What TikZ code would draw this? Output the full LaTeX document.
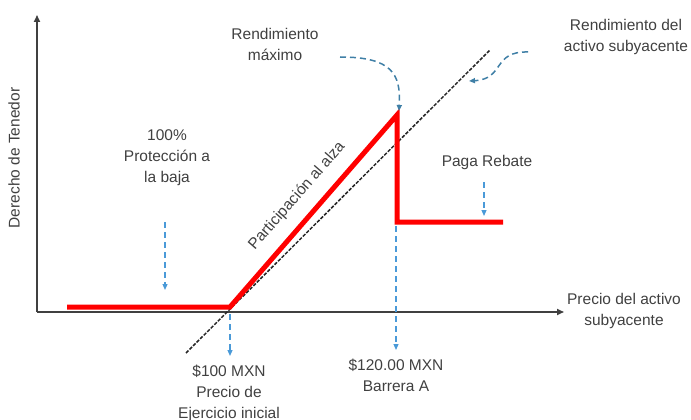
\documentclass[tikz,border=0pt]{standalone}
\usepackage{fontspec}
\setmainfont{Liberation Sans}
\usetikzlibrary{arrows.meta}
\definecolor{txtgray}{HTML}{404040}
\definecolor{pointblue}{HTML}{4A9AD8}
\definecolor{curveblue}{HTML}{3F7FA6}
\definecolor{payred}{HTML}{FF0000}

\tikzset{
  lbl/.style={align=center, text=txtgray, inner sep=0pt, font=\fontsize{15.5}{21}\selectfont},
  axis/.style={draw=txtgray, line width=1.6pt, -{Triangle[length=7pt,width=6pt]}},
  payoff/.style={draw=payred, line width=5pt, line join=miter},
  under/.style={draw=black!85, line width=1.5pt, dash pattern=on 3.5pt off 1.5pt},
  hint/.style={draw=pointblue, line width=1.2pt, dash pattern=on 6pt off 4pt, -{Triangle[length=6pt,width=5pt]}},
  bend hint/.style={hint, draw=curveblue, line width=1.5pt}
}

\begin{document}
\begin{tikzpicture}[x=1pt, y=-1pt]
  \useasboundingbox (0,0) rectangle (691,420);

  % axes
  \coordinate (org) at (37,312);
  \coordinate (ytop) at (37,15);
  \coordinate (xend) at (564,312);
  \draw[axis] (org) -- (ytop);
  \draw[axis] (org) -- (xend);

  % underlying asset line
  \coordinate (ulow) at (186,353);
  \coordinate (uhigh) at (490,50);
  \draw[under] (ulow) -- (uhigh);

  % payoff
  \coordinate (p0) at (67,307);
  \coordinate (strike) at (230,307);
  \coordinate (peak) at (397,115);
  \coordinate (drop) at (397,222);
  \coordinate (p4) at (503,222);
  \draw[payoff] (p0) -- (strike) -- (peak) -- (drop) -- (p4);

  % labels
  \node[lbl] (maxret) at (275,44) {Rendimiento\\máximo};
  \node[lbl] (uret) at (626,37) {Rendimiento del\\activo subyacente};
  \node[lbl] (prot) at (167,158) {100\%\\Protección a\\la baja};
  \node[lbl] (rebate) at (487,162) {Paga Rebate};
  \node[lbl, rotate=90] (ylbl) at (14,158) {Derecho de Tenedor};
  \node[lbl] (xlbl) at (624,311) {Precio del activo\\subyacente};
  \node[lbl] (klbl) at (229,393) {\$100 MXN\\Precio de\\Ejercicio inicial};
  \node[lbl] (blbl) at (396,375) {\$120.00 MXN\\Barrera A};
  \node[lbl, rotate=49] (part) at (297,196) {Participación al alza};

  % pointers
  \coordinate (protA) at (165,222);
  \coordinate (protB) at (165,290);
  \coordinate (kA) at (230,314);
  \coordinate (kB) at (230,356);
  \coordinate (bA) at (396,226);
  \coordinate (bB) at (396,350);
  \coordinate (rA) at (484,182);
  \coordinate (rB) at (484,216);
  \coordinate (mA) at (340,57);
  \coordinate (mB) at (399,111);
  \coordinate (uA) at (528,52);
  \coordinate (uB) at (469,81);

  \draw[hint] (protA) -- (protB);
  \draw[hint] (kA) -- (kB);
  \draw[hint] (bA) -- (bB);
  \draw[hint] (rA) -- (rB);
  \draw[bend hint] (mA) .. controls (392,57) and (401,74) .. (mB);
  \draw[bend hint] (uA) .. controls (492,51) and (505,79) .. (uB);
\end{tikzpicture}
\end{document}
